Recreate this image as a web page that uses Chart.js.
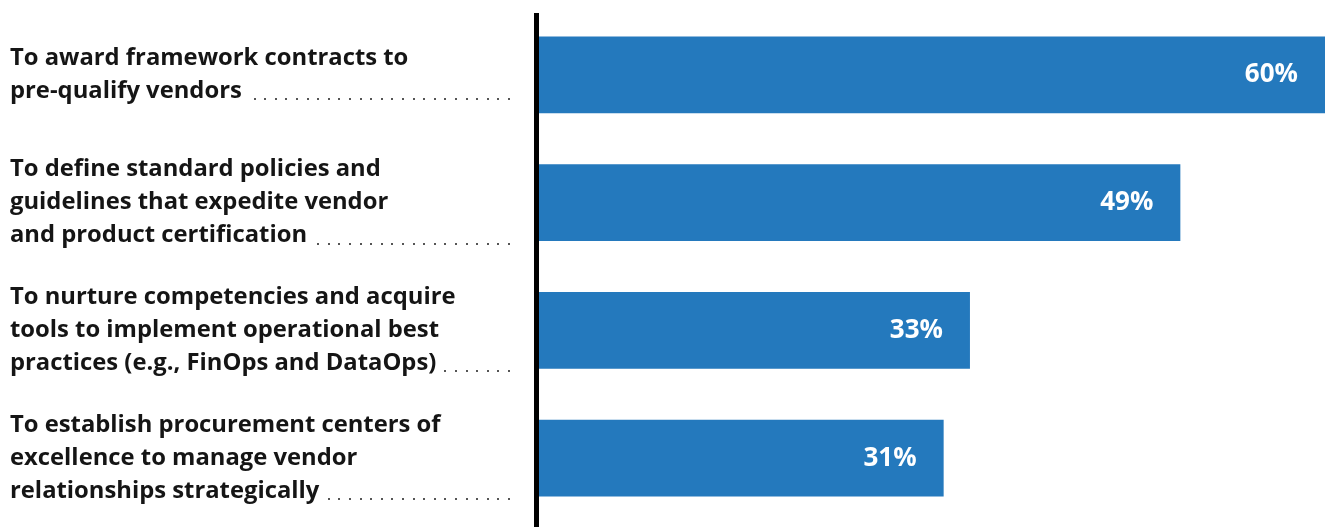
<!DOCTYPE html>
<html>
<head>
<meta charset="utf-8">
<script src="https://cdn.jsdelivr.net/npm/chart.js@4/dist/chart.umd.min.js"></script>
<style>
  html, body { margin: 0; padding: 0; background: #ffffff; }
  #wrap { width: 1325px; height: 527px; position: relative; }
</style>
</head>
<body>
<div id="wrap"><canvas id="chart" width="1325" height="527"></canvas></div>
<script>
// Survey answers: one multi-line label per bar
const categoryLines = [
  ["To award framework contracts to", "pre-qualify vendors"],
  ["To define standard policies and", "guidelines that expedite vendor", "and product certification"],
  ["To nurture competencies and acquire", "tools to implement operational best", "practices (e.g., FinOps and DataOps)"],
  ["To establish procurement centers of", "excellence to manage vendor", "relationships strategically"]
];
const shares = [60, 49, 33, 31];
const valueLabels = ["60%", "49%", "33%", "31%"];

const BAR_BLUE = "#2479bd";
const TEXT_DARK = "#151515";
const FONT = "'Open Sans', 'DejaVu Sans', sans-serif";

// Left-hand category text with dotted leaders, value labels, and the black axis rule
const annotate = {
  id: "annotate",
  afterDatasetsDraw(chart) {
    const ctx = chart.ctx;
    const yScale = chart.scales.y;
    const area = chart.chartArea;
    const lineH = 33;

    ctx.save();
    // category labels
    ctx.font = "bold 23.8px " + FONT;
    ctx.fillStyle = TEXT_DARK;
    ctx.textAlign = "left";
    ctx.textBaseline = "middle";
    categoryLines.forEach((lines, i) => {
      const cy = yScale.getPixelForValue(i);
      const top = cy - (lines.length - 1) * lineH / 2;
      lines.forEach((t, k) => ctx.fillText(t, 10, top + k * lineH));
      // dotted leader after the last line
      const last = lines[lines.length - 1];
      const ly = top + (lines.length - 1) * lineH;
      const w = ctx.measureText(last).width;
      ctx.fillStyle = "#555";
      const endX = 509;
      const step = 10.6;
      let x = endX;
      const startX = 10 + w + 8;
      while (x >= startX) {
        ctx.fillRect(Math.round(x) - 1, Math.round(ly + 7), 2, 2);
        x -= step;
      }
      ctx.fillStyle = TEXT_DARK;
    });

    // value labels inside the bar ends
    const meta = chart.getDatasetMeta(0);
    ctx.font = "bold 26px " + FONT;
    ctx.fillStyle = "#ffffff";
    ctx.textAlign = "right";
    meta.data.forEach((bar, i) => {
      ctx.fillText(valueLabels[i], bar.x - 27, bar.y);
    });

    // vertical axis rule
    ctx.fillStyle = "#000000";
    ctx.fillRect(area.left - 2, 13, 5, chart.height - 13);
    ctx.restore();
  }
};

new Chart(document.getElementById("chart"), {
  type: "bar",
  data: {
    labels: categoryLines.map(l => l.join(" ")),
    datasets: [{
      data: shares,
      backgroundColor: BAR_BLUE,
      borderWidth: 0,
      barPercentage: 0.6,
      categoryPercentage: 1.0
    }]
  },
  options: {
    indexAxis: "y",
    responsive: false,
    animation: false,
    events: [],
    layout: { padding: { top: 11, bottom: 5, left: 0, right: 0 } },
    plugins: { legend: { display: false }, tooltip: { enabled: false } },
    scales: {
      x: {
        min: 0, max: 60,
        display: false
      },
      y: {
        ticks: { display: false },
        grid: { display: false },
        border: { display: false },
        afterFit(scale) { scale.width = 536; }
      }
    }
  },
  plugins: [annotate]
});
</script>
</body>
</html>
